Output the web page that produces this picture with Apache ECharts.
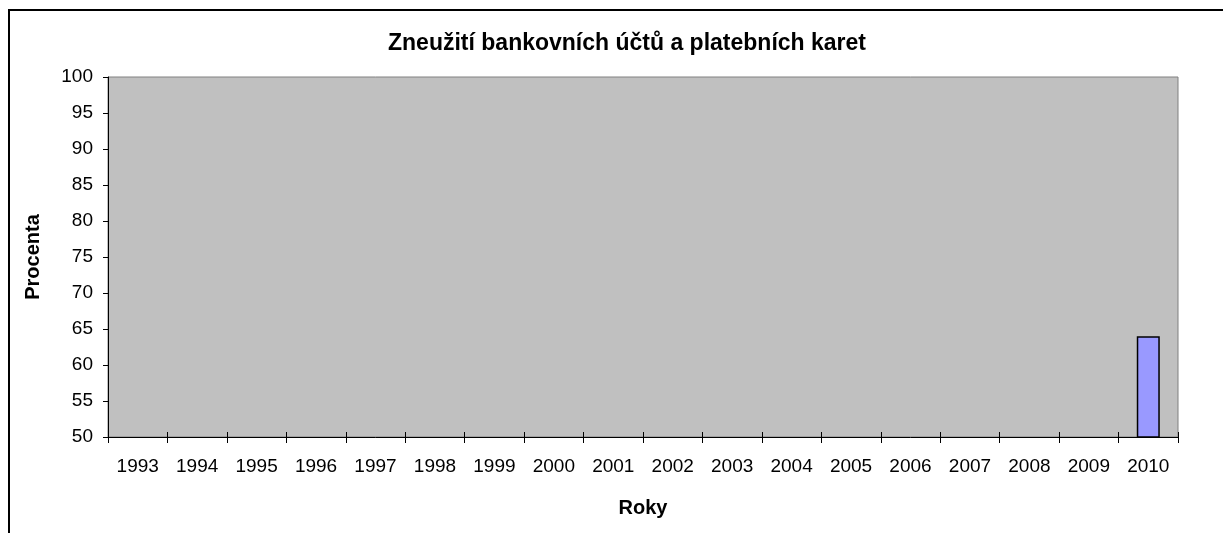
<!DOCTYPE html>
<html>
<head>
<meta charset="utf-8">
<style>
  html, body { margin: 0; padding: 0; background: #fff; }
  #chart { width: 1223px; height: 533px; }
</style>
<script src="https://cdn.jsdelivr.net/npm/echarts@6/dist/echarts.min.js"></script>
</head>
<body>
<div id="chart"></div>
<script>
const years = ['1993', '1994', '1995', '1996', '1997', '1998', '1999', '2000', '2001',
  '2002', '2003', '2004', '2005', '2006', '2007', '2008', '2009', '2010'];
// jen rok 2010 ma hodnotu
const procenta = [null, null, null, null, null, null, null, null, null,
  null, null, null, null, null, null, null, null, 64];
const yTicks = { min: 50, max: 100, step: 5 };

const font = 'Liberation Sans, Arial, sans-serif';

const chart = echarts.init(document.getElementById('chart'));

chart.setOption({
  animation: false,
  backgroundColor: '#fff',
  title: {
    text: 'Zneužití bankovních účtů a platebních karet',
    left: 622,
    top: 27,
    textAlign: 'center',
    textStyle: { fontFamily: font, fontSize: 23, fontWeight: 'bold', color: '#000' }
  },
  graphic: [{
    type: 'rect',
    shape: { x: 9, y: 10, width: 1240, height: 600 },
    style: { fill: 'none', stroke: '#000', lineWidth: 2 },
    silent: true
  }],
  grid: {
    left: 108, top: 77, right: 45, bottom: 96,
    show: true,
    backgroundColor: '#c0c0c0',
    borderColor: '#808080',
    borderWidth: 1
  },
  xAxis: [{
    type: 'category',
    data: years,
    name: 'Roky',
    nameLocation: 'middle',
    nameGap: 61,
    nameTextStyle: { fontFamily: font, fontSize: 20, fontWeight: 'bold', color: '#000' },
    axisLine: { lineStyle: { color: '#000', width: 1 } },
    axisTick: { show: true, length: 6, lineStyle: { color: '#000' } },
    axisLabel: { fontFamily: font, fontSize: 19, color: '#000', margin: 20, interval: 0 }
  }, {
    type: 'category',
    data: years,
    position: 'bottom',
    axisLine: { show: false },
    axisTick: { show: true, inside: true, length: 5, lineStyle: { color: '#000' } },
    axisLabel: { show: false }
  }],
  yAxis: {
    type: 'value',
    min: yTicks.min,
    max: yTicks.max,
    interval: yTicks.step,
    name: 'Procenta',
    nameLocation: 'middle',
    nameGap: 65,
    nameTextStyle: { fontFamily: font, fontSize: 20, fontWeight: 'bold', color: '#000' },
    axisLine: { show: true, lineStyle: { color: '#000', width: 1 } },
    axisTick: { show: true, length: 5, lineStyle: { color: '#000' } },
    axisLabel: { fontFamily: font, fontSize: 19, color: '#000', margin: 15 },
    splitLine: { show: false }
  },
  series: [{
    type: 'bar',
    data: procenta,
    barWidth: 23,
    itemStyle: { color: '#9999ff', borderColor: '#000', borderWidth: 1.5 }
  }]
});
</script>
</body>
</html>
